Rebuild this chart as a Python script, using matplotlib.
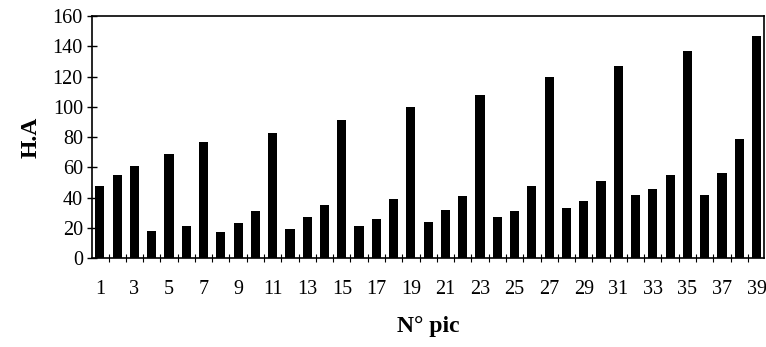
import matplotlib
matplotlib.use("Agg")
import matplotlib.pyplot as plt
from matplotlib.ticker import FixedLocator

plt.rcParams['font.family'] = ['Liberation Serif', 'DejaVu Serif']

peaks = list(range(1, 40))
ha = [48, 55, 61, 18, 69, 21, 77, 17, 23, 31,
      83, 19, 27, 35, 91, 21, 26, 39, 100, 24,
      32, 41, 108, 27, 31, 48, 120, 33, 38, 51,
      127, 42, 46, 55, 137, 42, 56, 79, 147]
xtick_labels = [str(n) for n in peaks if n % 2 == 1]

fig = plt.figure(figsize=(7.66, 3.47), dpi=100)
ax = fig.add_axes([0.120, 0.256, 0.878, 0.698])

ax.bar(peaks, ha, width=0.53, color='black')

ax.set_xlim(0.54, 39.46)
ax.set_ylim(0, 160)
ax.set_yticks(range(0, 161, 20))
ax.set_xticks([n for n in peaks if n % 2 == 1])
ax.set_xticklabels(xtick_labels)
ax.xaxis.set_minor_locator(FixedLocator([n + 0.5 for n in range(0, 40)]))

ax.tick_params(axis='x', which='major', length=0, pad=16, labelsize=14.5)
ax.tick_params(axis='x', which='minor', length=6, direction='inout', width=0.8)
ax.tick_params(axis='y', which='major', length=7, direction='inout', width=1, labelsize=14.5, pad=3)

for s in ax.spines.values():
    s.set_linewidth(1.2)

ax.set_ylabel('H.A', fontsize=17, fontweight='bold', labelpad=8)
ax.set_xlabel('N° pic', fontsize=17, fontweight='bold', labelpad=12)

fig.savefig('out.png', dpi=100)
